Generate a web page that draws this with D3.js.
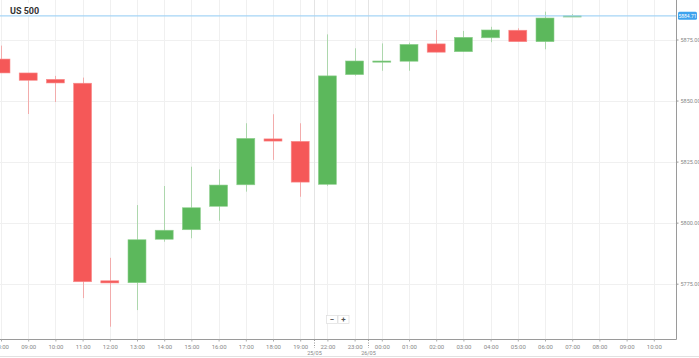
<!DOCTYPE html>
<html><head><meta charset="utf-8">
<script src="https://cdn.jsdelivr.net/npm/d3@7"></script>
<style>
html,body{margin:0;padding:0;background:#fff;}
svg{display:block;font-family:Roboto,"Open Sans",sans-serif;}
</style></head>
<body><svg id="c" width="699" height="358"></svg>
<script>
// Axis slot labels (hourly, with session breaks)
const slotLabels = ["08:00","09:00","10:00","11:00","12:00","13:00","14:00","15:00","16:00","17:00","18:00","19:00","22:00","23:00","00:00","01:00","02:00","03:00","04:00","05:00","06:00","07:00","08:00","09:00","10:00"];
// Date markers: placed between slot index pairs
const dateLabels = ["25/05","26/05"];
const dateAfterSlot = [11, 13];
// Candles (first 22 slots)
const open  = [5867.0,5861.3,5858.7,5857.1,5776.2,5775.4,5793.2,5797.1,5806.7,5815.5,5834.3,5833.3,5815.7,5860.6,5866.2,5866.1,5873.2,5870.0,5875.7,5878.8,5874.1,5884.2];
const high  = [5872.5,5861.3,5860.1,5859.4,5785.6,5807.2,5815.0,5822.9,5821.8,5840.7,5844.4,5840.7,5877.1,5871.4,5873.4,5873.7,5878.9,5878.5,5880.2,5879.6,5886.4,5885.4];
const low   = [5861.3,5844.5,5849.4,5769.1,5757.4,5764.2,5792.2,5793.6,5800.8,5812.7,5825.7,5810.6,5815.1,5860.2,5862.2,5862.2,5869.8,5870.0,5873.9,5874.1,5871.0,5884.2];
const close = [5861.3,5858.3,5857.2,5775.8,5775.3,5793.0,5796.9,5806.1,5815.4,5834.5,5833.4,5816.6,5860.1,5866.2,5866.2,5873.0,5869.8,5875.9,5878.9,5874.1,5883.8,5884.71];
const yTicks = [5775,5800,5825,5850,5875];
const lastPrice = 5884.71;
const title = "US 500";

const svg = d3.select("#c");
const axisX = 676, axisY = 339;
const x = d3.scalePoint().domain(d3.range(slotLabels.length)).range([1, 653.8]);
const y = d3.scaleLinear().domain([5775, 5875]).range([283.7, 39.5]);
const step = x.step();
const up = "#5cb85c", down = "#f55858";

// grid
const g = svg.append("g");
g.selectAll("line.vg").data(d3.range(slotLabels.length)).join("line")
  .attr("x1", d => Math.round(x(d)) + 0.5).attr("x2", d => Math.round(x(d)) + 0.5)
  .attr("y1", 0).attr("y2", axisY).attr("stroke", "#f0f0f0");
g.selectAll("line.hg").data(yTicks).join("line")
  .attr("x1", 0).attr("x2", axisX).attr("y1", d => Math.round(y(d)) + 0.5).attr("y2", d => Math.round(y(d)) + 0.5)
  .attr("stroke", "#f0f0f0");
// session dividers
g.selectAll("line.dv").data(dateAfterSlot).join("line")
  .attr("x1", d => Math.round(x(d) + step / 2) + 0.5).attr("x2", d => Math.round(x(d) + step / 2) + 0.5)
  .attr("y1", 0).attr("y2", axisY).attr("stroke", "#e4e4e4");

// candles
const idx = d3.range(open.length);
const cw = 18;
const cg = svg.append("g");
cg.selectAll("line.wick").data(idx).join("line")
  .attr("x1", i => Math.round(x(i)) + 0.5).attr("x2", i => Math.round(x(i)) + 0.5)
  .attr("y1", i => y(high[i])).attr("y2", i => y(low[i]))
  .attr("stroke", i => close[i] >= open[i] ? up : down).attr("stroke-opacity", 0.45).attr("stroke-width", 1);
cg.selectAll("rect.body").data(idx).join("rect")
  .attr("x", i => x(i) - cw / 2)
  .attr("y", i => y(Math.max(open[i], close[i])))
  .attr("width", cw)
  .attr("height", i => Math.max(1.2, Math.abs(y(open[i]) - y(close[i]))))
  .attr("fill", i => close[i] >= open[i] ? up : down)
  .attr("stroke", i => close[i] >= open[i] ? "#8fd08f" : "#f98f8f").attr("stroke-width", 0.6);

// current price line
svg.append("line").attr("x1", 0).attr("x2", axisX).attr("y1", y(lastPrice)).attr("y2", y(lastPrice))
  .attr("stroke", "#a6d5f6").attr("stroke-width", 1.3);

// title
svg.append("rect").attr("x", 5).attr("y", 3).attr("width", 35).attr("height", 12).attr("fill", "#fff");
svg.append("text").attr("x", 10).attr("y", 13.5).text(title)
  .attr("font-size", 9).attr("font-weight", "bold").attr("fill", "#333");

// axes lines
svg.append("line").attr("x1", axisX + 0.5).attr("x2", axisX + 0.5).attr("y1", 0).attr("y2", axisY + 0.5).attr("stroke", "#9a9a9a");
svg.append("line").attr("x1", 0).attr("x2", axisX + 0.5).attr("y1", axisY + 0.5).attr("y2", axisY + 0.5).attr("stroke", "#9a9a9a");

// y axis
const ya = svg.append("g").attr("transform", `translate(${axisX + 0.5},0)`)
  .call(d3.axisRight(y).tickValues(yTicks).tickSize(2).tickPadding(2).tickFormat(d3.format(".2f")));
ya.select(".domain").remove();
ya.selectAll("line").attr("stroke", "#999");
ya.selectAll("text").attr("font-size", 5.5).attr("fill", "#888").attr("font-family", "Roboto,sans-serif");

// price label
const py = y(lastPrice);
svg.append("rect").attr("x", 678).attr("y", py - 4).attr("width", 19).attr("height", 8).attr("rx", 1.5).attr("fill", "#3ea3ee");
svg.append("text").attr("x", 687.5).attr("y", py + 2).attr("text-anchor", "middle").text(lastPrice.toFixed(2))
  .attr("font-size", 5).attr("fill", "#fff");

// x axis
const xa = svg.append("g").attr("transform", `translate(0,${axisY + 0.5})`)
  .call(d3.axisBottom(x).tickSize(2).tickPadding(3).tickFormat(i => slotLabels[i]));
xa.select(".domain").remove();
xa.selectAll("line").attr("stroke", "#aaa");
xa.selectAll("text").attr("font-size", 6).attr("fill", "#888").attr("font-family", "Roboto,sans-serif");

// date markers
const dm = svg.append("g");
dateAfterSlot.forEach((s, k) => {
  const dx = Math.round(x(s) + step / 2) + 0.5;
  dm.append("line").attr("x1", dx).attr("x2", dx).attr("y1", axisY + 1).attr("y2", axisY + 9)
    .attr("stroke", "#999").attr("stroke-dasharray", "1,1.5");
  dm.append("text").attr("x", dx).attr("y", axisY + 15.5).attr("text-anchor", "middle").text(dateLabels[k])
    .attr("font-size", 5.5).attr("fill", "#888");
});

// zoom buttons
const zb = svg.append("g");
[["−", 326.5], ["+", 338]].forEach(([t, bx]) => {
  zb.append("rect").attr("x", bx).attr("y", 315.5).attr("width", 11).attr("height", 8).attr("fill", "#fff").attr("stroke", "#ddd").attr("stroke-width", 0.7);
  zb.append("text").attr("x", bx + 5.5).attr("y", 322).attr("text-anchor", "middle").text(t)
    .attr("font-size", 8).attr("font-weight", "bold").attr("fill", "#555");
});

// bottom border
svg.append("line").attr("x1", 0).attr("x2", 699).attr("y1", 356.5).attr("y2", 356.5).attr("stroke", "#e2e2e2");
</script></body></html>
